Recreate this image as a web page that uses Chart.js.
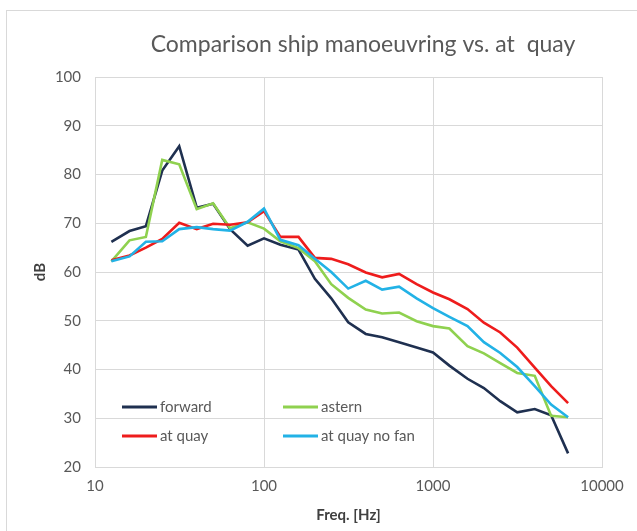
<!DOCTYPE html>
<html>
<head>
<meta charset="utf-8">
<script src="https://cdn.jsdelivr.net/npm/chart.js@4/dist/chart.umd.min.js"></script>
<style>
  html, body { margin: 0; padding: 0; background: #fff; }
  #wrap { width: 637px; height: 531px; }
</style>
</head>
<body>
<div id="wrap"><canvas id="noise" width="637" height="531"></canvas></div>
<script>
// third-octave band centres (Hz)
const freqs = [12.5, 16, 20, 25, 31.5, 40, 50, 63, 80, 100, 125, 160, 200, 250, 315,
  400, 500, 630, 800, 1000, 1250, 1600, 2000, 2500, 3150, 4000, 5000, 6300];

const forward = [66.2, 68.4, 69.4, 80.8, 85.8, 73.2, 74.0, 68.8, 65.4, 66.9, 65.6, 64.6, 58.6, 54.6, 49.7,
  47.3, 46.6, 45.6, 44.5, 43.5, 40.8, 38.1, 36.2, 33.5, 31.2, 31.9, 30.6, 22.8];
const astern = [62.2, 66.5, 67.2, 83.0, 82.1, 72.9, 74.1, 69.0, 70.2, 68.9, 66.3, 64.9, 62.2, 57.5, 54.7,
  52.3, 51.5, 51.7, 49.9, 48.9, 48.4, 44.8, 43.3, 41.3, 39.3, 38.7, 30.5, 30.2];
const atQuay = [62.4, 63.4, 65.0, 66.8, 70.1, 68.8, 69.9, 69.7, 70.2, 72.5, 67.2, 67.2, 62.9, 62.7, 61.6,
  59.9, 58.9, 59.6, 57.5, 55.8, 54.4, 52.4, 49.6, 47.6, 44.5, 40.4, 36.6, 33.1];
const atQuayNoFan = [62.2, 63.2, 66.2, 66.3, 68.8, 69.2, 68.8, 68.5, 70.3, 73.0, 66.6, 65.5, 62.7, 60.0, 56.6,
  58.2, 56.4, 57.0, 54.6, 52.6, 50.8, 48.9, 45.6, 43.4, 40.5, 36.6, 32.8, 30.2];

const xTicks = [10, 100, 1000, 10000];
const textColor = '#595959';
const gridColor = '#d9d9d9';

const pts = arr => freqs.map((f, i) => ({ x: f, y: arr[i] }));

const series = (label, arr, color, order) => ({
  label, data: pts(arr), borderColor: color, backgroundColor: color,
  borderWidth: 2.6, pointRadius: 0, tension: 0, order
});

// frame, title and the in-plot legend
const decor = {
  id: 'decor',
  beforeDraw(chart) {
    const ctx = chart.ctx;
    ctx.save();
    ctx.strokeStyle = '#d9d9d9';
    ctx.lineWidth = 1;
    ctx.strokeRect(6.5, 10.5, 700, 600);
    ctx.restore();
  },
  afterDraw(chart) {
    const ctx = chart.ctx;
    const area = chart.chartArea;
    ctx.save();
    ctx.fillStyle = textColor;
    ctx.font = '23px Lato';
    ctx.textAlign = 'center';
    ctx.textBaseline = 'middle';
    ctx.fillText('Comparison ship manoeuvring vs. at  quay', 363, 45);

    ctx.font = '15px Lato';
    ctx.textAlign = 'left';
    const cols = [area.left + 27, area.left + 188];
    const rows = [area.bottom - 60, area.bottom - 31];
    chart.data.datasets.forEach((ds, i) => {
      const x = cols[i % 2];
      const y = rows[Math.floor(i / 2)];
      ctx.strokeStyle = ds.borderColor;
      ctx.lineWidth = 3;
      ctx.beginPath();
      ctx.moveTo(x, y);
      ctx.lineTo(x + 35, y);
      ctx.stroke();
      ctx.fillStyle = textColor;
      ctx.fillText(ds.label, x + 38, y);
    });
    ctx.restore();
  }
};

new Chart(document.getElementById('noise'), {
  type: 'line',
  data: {
    datasets: [
      series('forward', forward, '#1f3050', 3),
      series('astern', astern, '#8fd14f', 2),
      series('at quay', atQuay, '#ee1c1c', 1),
      series('at quay no fan', atQuayNoFan, '#22b2e6', 0)
    ]
  },
  options: {
    responsive: false,
    animation: false,
    layout: { padding: { top: 77, right: 35, left: 0, bottom: 0 } },
    plugins: { legend: { display: false }, tooltip: { enabled: false } },
    scales: {
      x: {
        type: 'logarithmic',
        min: 10,
        max: 10000,
        afterBuildTicks: s => { s.ticks = xTicks.map(v => ({ value: v })); },
        afterFit: s => { s.height = 64; },
        ticks: { color: textColor, font: { family: 'Lato', size: 15 }, padding: 10,
          callback: v => String(v), maxRotation: 0 },
        grid: { color: gridColor, drawTicks: false },
        border: { color: gridColor },
        title: { display: true, text: 'Freq. [Hz]', color: '#404040',
          font: { family: 'Lato', size: 15, weight: 'bold' }, padding: { bottom: 7 } }
      },
      y: {
        min: 20,
        max: 100,
        afterFit: s => { s.width = 95; },
        ticks: { stepSize: 10, color: textColor, font: { family: 'Lato', size: 15 }, padding: 14 },
        grid: { color: gridColor, drawTicks: false },
        border: { color: gridColor },
        title: { display: true, text: 'dB', color: '#404040',
          font: { family: 'Lato', size: 15, weight: 'bold' }, padding: { top: 31 } }
      }
    }
  },
  plugins: [decor]
});
</script>
</body>
</html>
